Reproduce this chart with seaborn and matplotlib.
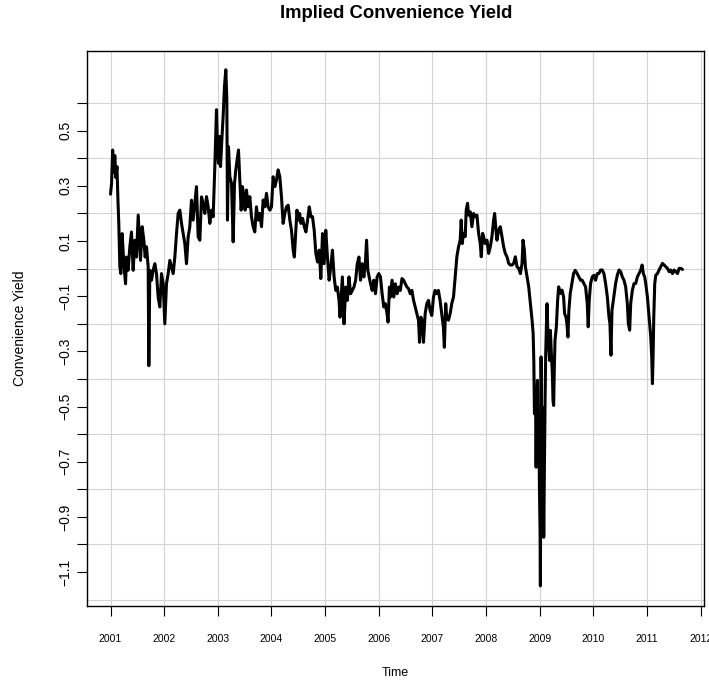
import matplotlib
matplotlib.use("Agg")
import matplotlib.pyplot as plt
import seaborn as sns
import pandas as pd
from matplotlib.ticker import FixedLocator, FixedFormatter

sns.set_style("white")
plt.rcParams["font.family"] = ["Liberation Sans", "DejaVu Sans"]
plt.rcParams["text.color"] = "black"
plt.rcParams["xtick.color"] = "black"
plt.rcParams["ytick.color"] = "black"

# Observation dates (decimal years) and the implied convenience yield
time = [
    2001.000, 2001.020, 2001.040, 2001.060, 2001.080, 2001.100, 2001.120, 2001.140,
    2001.155, 2001.174, 2001.193, 2001.217, 2001.248, 2001.280, 2001.298, 2001.329,
    2001.360, 2001.391, 2001.422, 2001.453, 2001.484, 2001.516, 2001.534, 2001.559,
    2001.590, 2001.621, 2001.646, 2001.671, 2001.702, 2001.714, 2001.733, 2001.764,
    2001.795, 2001.826, 2001.857, 2001.888, 2001.919, 2001.950, 2001.981, 2002.012,
    2002.043, 2002.075, 2002.106, 2002.137, 2002.168, 2002.199, 2002.230, 2002.261,
    2002.292, 2002.323, 2002.354, 2002.385, 2002.416, 2002.447, 2002.478, 2002.509,
    2002.540, 2002.571, 2002.602, 2002.634, 2002.665, 2002.696, 2002.727, 2002.758,
    2002.789, 2002.820, 2002.851, 2002.882, 2002.913, 2002.944, 2002.975, 2002.994,
    2003.012, 2003.031, 2003.050, 2003.075, 2003.099, 2003.124, 2003.149, 2003.168,
    2003.180, 2003.199, 2003.224, 2003.255, 2003.286, 2003.311, 2003.335, 2003.360,
    2003.385, 2003.410, 2003.435, 2003.460, 2003.484, 2003.509, 2003.534, 2003.565,
    2003.596, 2003.627, 2003.658, 2003.689, 2003.720, 2003.752, 2003.783, 2003.814,
    2003.845, 2003.876, 2003.907, 2003.938, 2003.969, 2004.000, 2004.031, 2004.062,
    2004.093, 2004.124, 2004.155, 2004.186, 2004.217, 2004.248, 2004.280, 2004.311,
    2004.342, 2004.373, 2004.404, 2004.426, 2004.451, 2004.475, 2004.500, 2004.525,
    2004.549, 2004.580, 2004.611, 2004.642, 2004.673, 2004.704, 2004.735, 2004.765,
    2004.796, 2004.827, 2004.858, 2004.889, 2004.920, 2004.951, 2004.981, 2005.012,
    2005.043, 2005.074, 2005.105, 2005.136, 2005.167, 2005.198, 2005.228, 2005.259,
    2005.278, 2005.302, 2005.321, 2005.352, 2005.383, 2005.414, 2005.444, 2005.475,
    2005.506, 2005.537, 2005.568, 2005.599, 2005.630, 2005.660, 2005.691, 2005.722,
    2005.753, 2005.772, 2005.796, 2005.821, 2005.846, 2005.877, 2005.907, 2005.938,
    2005.969, 2006.000, 2006.031, 2006.062, 2006.093, 2006.123, 2006.154, 2006.173,
    2006.198, 2006.216, 2006.247, 2006.278, 2006.309, 2006.340, 2006.370, 2006.401,
    2006.432, 2006.463, 2006.494, 2006.525, 2006.556, 2006.586, 2006.617, 2006.648,
    2006.679, 2006.710, 2006.741, 2006.759, 2006.784, 2006.809, 2006.833, 2006.864,
    2006.895, 2006.926, 2006.957, 2006.988, 2007.019, 2007.049, 2007.080, 2007.111,
    2007.142, 2007.173, 2007.204, 2007.222, 2007.247, 2007.265, 2007.299, 2007.330,
    2007.361, 2007.393, 2007.424, 2007.455, 2007.486, 2007.517, 2007.536, 2007.555,
    2007.579, 2007.611, 2007.629, 2007.654, 2007.673, 2007.704, 2007.735, 2007.766,
    2007.798, 2007.829, 2007.860, 2007.891, 2007.910, 2007.935, 2007.953, 2007.984,
    2008.016, 2008.047, 2008.078, 2008.109, 2008.140, 2008.159, 2008.184, 2008.202,
    2008.234, 2008.265, 2008.296, 2008.327, 2008.358, 2008.389, 2008.421, 2008.452,
    2008.483, 2008.514, 2008.545, 2008.576, 2008.607, 2008.639, 2008.670, 2008.688,
    2008.713, 2008.732, 2008.763, 2008.794, 2008.826, 2008.857, 2008.877, 2008.889,
    2008.901, 2008.920, 2008.932, 2008.944, 2008.957, 2008.969, 2008.981, 2008.994,
    2009.006, 2009.012, 2009.025, 2009.037, 2009.049, 2009.062, 2009.074, 2009.086,
    2009.099, 2009.111, 2009.123, 2009.136, 2009.148, 2009.167, 2009.185, 2009.198,
    2009.216, 2009.235, 2009.247, 2009.259, 2009.272, 2009.284, 2009.309, 2009.333,
    2009.352, 2009.383, 2009.414, 2009.444, 2009.463, 2009.488, 2009.506, 2009.525,
    2009.543, 2009.568, 2009.599, 2009.630, 2009.660, 2009.698, 2009.729, 2009.760,
    2009.791, 2009.822, 2009.854, 2009.885, 2009.903, 2009.922, 2009.947, 2009.978,
    2010.009, 2010.040, 2010.072, 2010.103, 2010.134, 2010.165, 2010.196, 2010.227,
    2010.259, 2010.290, 2010.308, 2010.327, 2010.346, 2010.364, 2010.383, 2010.414,
    2010.445, 2010.477, 2010.508, 2010.539, 2010.570, 2010.601, 2010.632, 2010.651,
    2010.676, 2010.695, 2010.726, 2010.757, 2010.788, 2010.819, 2010.850, 2010.882,
    2010.907, 2010.931, 2010.956, 2010.975, 2011.006, 2011.037, 2011.069, 2011.087,
    2011.100, 2011.112, 2011.125, 2011.143, 2011.162, 2011.193, 2011.224, 2011.255,
    2011.287, 2011.318, 2011.349, 2011.380, 2011.411, 2011.442, 2011.474, 2011.505,
    2011.536, 2011.567, 2011.598, 2011.629, 2011.660,
]

convenience_yield = [
    0.270, 0.310, 0.430, 0.350, 0.410, 0.330, 0.370, 0.240,
    0.160, 0.006, -0.018, 0.127, 0.018, -0.055, 0.042, -0.006,
    0.079, 0.133, -0.006, 0.103, 0.042, 0.194, 0.127, 0.030,
    0.152, 0.103, 0.042, 0.079, 0.006, -0.352, -0.006, -0.042,
    -0.006, 0.018, -0.018, -0.103, -0.139, -0.018, -0.055, -0.200,
    -0.055, -0.018, 0.030, 0.006, -0.018, 0.042, 0.127, 0.200,
    0.212, 0.164, 0.127, 0.091, 0.018, 0.115, 0.152, 0.248,
    0.176, 0.236, 0.297, 0.115, 0.103, 0.260, 0.236, 0.200,
    0.261, 0.224, 0.164, 0.212, 0.188, 0.370, 0.576, 0.430,
    0.382, 0.479, 0.370, 0.467, 0.552, 0.661, 0.721, 0.612,
    0.176, 0.442, 0.333, 0.309, 0.097, 0.309, 0.358, 0.394,
    0.430, 0.321, 0.212, 0.297, 0.261, 0.212, 0.285, 0.224,
    0.261, 0.188, 0.152, 0.133, 0.224, 0.176, 0.200, 0.152,
    0.249, 0.224, 0.273, 0.224, 0.212, 0.224, 0.333, 0.297,
    0.321, 0.358, 0.333, 0.261, 0.164, 0.200, 0.224, 0.230,
    0.176, 0.139, 0.067, 0.042, 0.127, 0.212, 0.176, 0.200,
    0.164, 0.182, 0.152, 0.133, 0.176, 0.224, 0.188, 0.188,
    0.139, 0.055, 0.024, 0.067, -0.036, 0.127, 0.018, 0.139,
    0.042, -0.042, 0.006, 0.067, -0.030, -0.079, -0.067, -0.115,
    -0.176, -0.091, -0.030, -0.200, -0.067, -0.115, -0.030, -0.091,
    -0.079, -0.067, -0.042, 0.018, 0.042, -0.042, 0.018, -0.030,
    0.030, 0.103, -0.006, -0.030, -0.055, -0.079, -0.042, -0.091,
    -0.030, -0.018, -0.030, -0.091, -0.139, -0.127, -0.164, -0.194,
    -0.067, -0.103, -0.042, -0.103, -0.055, -0.091, -0.067, -0.079,
    -0.036, -0.042, -0.055, -0.067, -0.073, -0.091, -0.079, -0.115,
    -0.139, -0.164, -0.188, -0.267, -0.176, -0.188, -0.267, -0.164,
    -0.127, -0.115, -0.152, -0.170, -0.103, -0.079, -0.091, -0.079,
    -0.115, -0.164, -0.212, -0.285, -0.127, -0.175, -0.187, -0.163,
    -0.126, -0.102, -0.030, 0.043, 0.079, 0.103, 0.176, 0.091,
    0.128, 0.116, 0.212, 0.237, 0.194, 0.206, 0.152, 0.200,
    0.188, 0.194, 0.128, 0.091, 0.043, 0.128, 0.116, 0.091,
    0.103, 0.055, 0.079, 0.116, 0.176, 0.200, 0.140, 0.103,
    0.140, 0.152, 0.116, 0.079, 0.055, 0.043, 0.019, 0.013,
    0.013, 0.019, 0.043, 0.007, 0.001, -0.018, 0.019, 0.103,
    0.067, 0.007, -0.030, -0.066, -0.126, -0.187, -0.236, -0.333,
    -0.526, -0.429, -0.720, -0.478, -0.405, -0.599, -0.526, -0.793,
    -0.962, -1.150, -0.320, -0.599, -0.502, -0.720, -0.974, -0.720,
    -0.478, -0.308, -0.212, -0.127, -0.212, -0.284, -0.333, -0.224,
    -0.308, -0.381, -0.478, -0.496, -0.357, -0.260, -0.212, -0.115,
    -0.066, -0.090, -0.078, -0.102, -0.163, -0.175, -0.199, -0.248,
    -0.151, -0.090, -0.054, -0.018, -0.006, -0.018, -0.030, -0.042,
    -0.042, -0.054, -0.066, -0.126, -0.211, -0.114, -0.054, -0.030,
    -0.024, -0.042, -0.018, -0.018, -0.005, -0.005, -0.018, -0.054,
    -0.102, -0.175, -0.199, -0.314, -0.151, -0.126, -0.102, -0.054,
    -0.024, -0.005, -0.011, -0.030, -0.042, -0.066, -0.126, -0.199,
    -0.223, -0.126, -0.078, -0.054, -0.054, -0.030, -0.018, -0.005,
    0.013, -0.018, -0.030, -0.054, -0.102, -0.175, -0.248, -0.320,
    -0.417, -0.320, -0.175, -0.054, -0.024, -0.018, -0.005, 0.007,
    0.019, 0.013, 0.007, 0.001, -0.011, -0.005, -0.018, -0.005,
    -0.011, -0.018, 0.001, 0.001, -0.003,
]

year_ticks = list(range(2001, 2013))
year_labels = [str(y) for y in year_ticks]
yield_ticks = [-1.1, -1.0, -0.9, -0.8, -0.7, -0.6, -0.5, -0.4, -0.3, -0.2,
               -0.1, 0.0, 0.1, 0.2, 0.3, 0.4, 0.5, 0.6]
yield_labels = ["\u22121.1", "", "\u22120.9", "", "\u22120.7", "", "\u22120.5", "",
                "\u22120.3", "", "\u22120.1", "", "0.1", "", "0.3", "", "0.5", ""]
grid_levels = [-1.2, -1.0, -0.8, -0.6, -0.4, -0.2, 0.0, 0.2, 0.4, 0.6]

df = pd.DataFrame({"Time": time, "Convenience Yield": convenience_yield})

fig = plt.figure(figsize=(7.09, 6.87), dpi=100)
ax = fig.add_axes([0.1231, 0.1183, 0.8703, 0.8079])

sns.lineplot(data=df, x="Time", y="Convenience Yield", ax=ax, color="black",
             linewidth=2.2, estimator=None, sort=False, zorder=3)

ax.set_xlim(2000.567, 2012.067)
ax.set_ylim(-1.222, 0.79)

ax.xaxis.set_major_locator(FixedLocator(year_ticks))
ax.xaxis.set_major_formatter(FixedFormatter(year_labels))
ax.yaxis.set_major_locator(FixedLocator(yield_ticks))
ax.yaxis.set_major_formatter(FixedFormatter(yield_labels))
# grid levels share positions with labelled ticks; keep both sets
ax.yaxis.remove_overlapping_locs = False
ax.yaxis.set_minor_locator(FixedLocator(grid_levels))

ax.set_axisbelow(True)
ax.grid(False)
ax.xaxis.grid(True, which="major", color="#d3d3d3", linewidth=0.8)
ax.yaxis.grid(True, which="minor", color="#d3d3d3", linewidth=0.8)

ax.tick_params(axis="x", which="major", direction="out", length=7, width=0.8,
               color="black", labelcolor="black", labelsize=7.5, pad=13, bottom=True)
ax.tick_params(axis="y", which="major", direction="out", length=7, width=0.8,
               color="black", labelcolor="black", labelsize=10, pad=4, left=True)
ax.tick_params(axis="y", which="minor", length=0)
for lab in ax.get_yticklabels():
    lab.set_rotation(90)
    lab.set_va("center")

for side in ["left", "right", "top", "bottom"]:
    ax.spines[side].set_visible(True)
    ax.spines[side].set_color("black")
    ax.spines[side].set_linewidth(1.0)

ax.set_xlabel("")
ax.set_ylabel("")
fig.text(0.5582, 0.980, "Implied Convenience Yield", ha="center", va="center",
         fontsize=13.3, fontweight="bold", color="black")
fig.text(0.5582, 0.0204, "Time", ha="center", va="center", fontsize=9, color="black")
fig.text(0.028, 0.5226, "Convenience Yield", ha="center", va="center",
         rotation=90, fontsize=10, color="black")

fig.savefig("out.png", dpi=100, facecolor="white")
